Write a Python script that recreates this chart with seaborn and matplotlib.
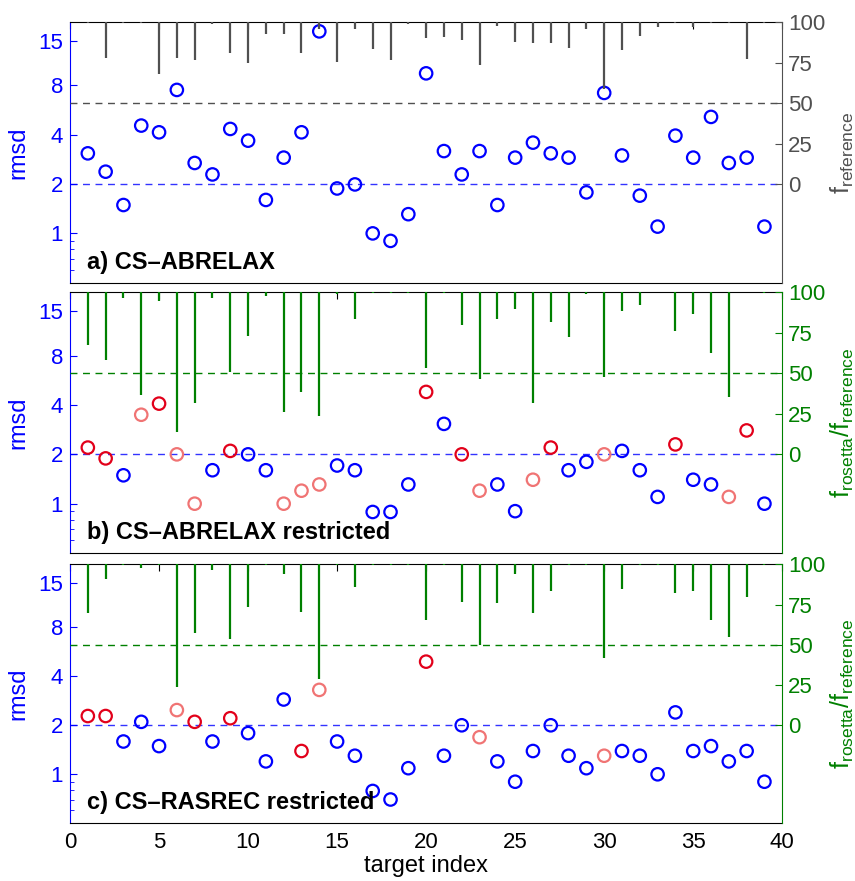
import numpy as np
import seaborn as sns
import matplotlib
matplotlib.use('Agg')
from matplotlib import pyplot as plt
from matplotlib.ticker import FixedLocator, NullFormatter


## DADOS

target = list(range(1, 40))

rmsd_a = [3.08, 2.38, 1.49, 4.55, 4.14, 7.51, 2.69, 2.29, 4.34, 3.68,
          1.60, 2.90, 4.14, 17.1, 1.88, 1.99, 1.00, 0.90, 1.31, 9.48,
          3.18, 2.29, 3.18, 1.49, 2.90, 3.58, 3.08, 2.90, 1.78, 7.20,
          2.99, 1.70, 1.10, 3.95, 2.90, 5.14, 2.69, 2.90, 1.10]
class_a = ['blue'] * 39
fref_a = [99.5, 77.9, 99.5, 99.6, 67.8, 77.9, 76.4, 99.0, 81.0, 74.8,
          92.6, 92.6, 81.0, 96.0, 75.4, 95.7, 83.3, 76.4, 98.8, 89.9,
          90.9, 88.8, 73.3, 97.7, 87.8, 86.8, 86.8, 83.7, 96.0, 58.9,
          82.6, 91.5, 97.0, 99.3, 97.0, 99.3, 99.3, 76.9, 99.3]

rmsd_b = [2.20, 1.89, 1.49, 3.49, 4.08, 2.00, 1.00, 1.60, 2.10, 2.00,
          1.60, 1.00, 1.20, 1.31, 1.71, 1.60, 0.89, 0.89, 1.31, 4.81,
          3.07, 2.00, 1.20, 1.31, 0.90, 1.40, 2.20, 1.60, 1.80, 2.00,
          2.10, 1.60, 1.10, 2.30, 1.40, 1.31, 1.10, 2.80, 1.00]
class_b = ['red', 'red', 'blue', 'pink', 'red', 'pink', 'pink', 'blue', 'red', 'blue',
           'blue', 'pink', 'pink', 'pink', 'blue', 'blue', 'blue', 'blue', 'blue', 'red',
           'blue', 'red', 'pink', 'blue', 'blue', 'pink', 'red', 'blue', 'blue', 'pink',
           'blue', 'blue', 'blue', 'red', 'blue', 'blue', 'pink', 'red', 'blue']
fratio_b = [67.5, 58.2, 96.7, 36.6, 94.9, 14.0, 31.5, 96.7, 50.6, 73.3,
            97.9, 26.3, 38.7, 23.7, 98.8, 83.5, 99.5, 99.5, 99.5, 53.5,
            99.5, 79.8, 46.5, 83.5, 89.7, 31.5, 81.9, 72.2, 98.8, 47.5,
            88.7, 92.2, 100.0, 76.3, 86.6, 62.8, 35.2, 100.0, 99.5]

rmsd_c = [2.28, 2.28, 1.59, 2.10, 1.49, 2.48, 2.10, 1.59, 2.21, 1.79,
          1.20, 2.88, 1.39, 3.30, 1.59, 1.30, 0.79, 0.70, 1.09, 4.92,
          1.30, 2.00, 1.69, 1.20, 0.90, 1.39, 2.00, 1.30, 1.09, 1.30,
          1.39, 1.30, 1.00, 2.40, 1.39, 1.49, 1.20, 1.39, 0.90]
class_c = ['red', 'red', 'blue', 'blue', 'blue', 'pink', 'red', 'blue', 'red', 'blue',
           'blue', 'blue', 'red', 'pink', 'blue', 'blue', 'blue', 'blue', 'blue', 'red',
           'blue', 'blue', 'pink', 'blue', 'blue', 'blue', 'blue', 'blue', 'blue', 'pink',
           'blue', 'blue', 'blue', 'blue', 'blue', 'blue', 'blue', 'blue', 'blue']
fratio_c = [70.0, 90.9, 99.5, 97.9, 99.5, 23.6, 57.6, 96.5, 53.6, 73.7,
            99.5, 93.8, 70.6, 28.8, 99.3, 85.7, 99.5, 99.5, 99.5, 65.4,
            99.5, 76.8, 49.9, 75.8, 93.8, 70.0, 83.6, 99.5, 99.5, 41.6,
            84.7, 99.5, 99.5, 82.0, 83.6, 65.4, 55.1, 79.9, 99.5]

cores = {'blue': '#0000ff', 'red': '#e2001a', 'pink': '#f07474'}
AZUL = '#0000ff'
CINZA = '#505050'
VERDE = '#008000'


## CONFIGURAÇÕES

sns.set_style('white')
plt.rcParams['font.family'] = ['Liberation Sans', 'DejaVu Sans']
plt.rcParams['mathtext.fontset'] = 'custom'
plt.rcParams['mathtext.rm'] = 'Liberation Sans'
plt.rcParams['text.color'] = 'black'
plt.rcParams['axes.labelcolor'] = 'black'
plt.rcParams['xtick.color'] = 'black'
FS = 16

fig = plt.figure(figsize=(8.55, 8.81), dpi=100)

paineis = [
    (rmsd_a, class_a, fref_a, CINZA, r'$\mathregular{f_{reference}}$', 'a) CS\u2013ABRELAX', [0.0819, 0.6791, 0.833, 0.2959]),
    (rmsd_b, class_b, fratio_b, VERDE, r'$\mathregular{f_{rosetta}/f_{reference}}$', 'b) CS\u2013ABRELAX restricted', [0.0819, 0.3723, 0.833, 0.2959]),
    (rmsd_c, class_c, fratio_c, VERDE, r'$\mathregular{f_{rosetta}/f_{reference}}$', 'c) CS\u2013RASREC restricted', [0.0819, 0.0655, 0.833, 0.2940]),
]

ylo, yhi = 0.5, 19.5
frac2 = np.log(2 / ylo) / np.log(yhi / ylo)
rlo = -100 * frac2 / (1 - frac2)

for k, (rmsd, cls, fval, corDir, labDir, titulo, pos) in enumerate(paineis):
    ax = fig.add_axes(pos)
    ax2 = ax.twinx()

    # barras penduradas no topo (eixo direito)
    ax2.vlines(target, fval, 100, color=corDir, lw=1.6, zorder=2)
    ax2.axhline(50, color=corDir, ls=(0, (5, 4)), lw=1.0)
    ax2.set_ylim(rlo, 100)
    ax2.set_yticks([0, 25, 50, 75, 100])
    ax2.tick_params(axis='y', direction='in', length=5, colors=corDir, labelsize=FS, pad=4)
    ax2.set_ylabel(labDir, color=corDir, fontsize=FS + 2, labelpad=3)
    for s in ['left', 'top', 'bottom']:
        ax2.spines[s].set_visible(False)
    ax2.spines['right'].set_color(corDir)

    # circulos rmsd (eixo esquerdo)
    ax.axhline(2, color=AZUL, ls=(0, (5, 4)), lw=1.0, alpha=0.8)
    for c in ['blue', 'pink', 'red']:
        xs = [t for t, q in zip(target, cls) if q == c]
        ys = [r for r, q in zip(rmsd, cls) if q == c]
        if len(xs) == 0:
            continue
        sns.scatterplot(x=xs, y=ys, ax=ax, marker='o', s=80, facecolor='none',
                        edgecolor=cores[c], linewidth=1.6, zorder=5)
    ax.set_yscale('log')
    ax.set_ylim(ylo, yhi)
    ax.set_xlim(0, 40)
    ax.yaxis.set_major_locator(FixedLocator([1, 2, 4, 8, 15]))
    ax.set_yticklabels(['1', '2', '4', '8', '15'])
    ax.yaxis.set_minor_locator(FixedLocator([0.6, 0.7, 0.8, 0.9]))
    ax.yaxis.set_minor_formatter(NullFormatter())
    ax.set_xticks(range(0, 41, 5))
    ax.tick_params(axis='y', which='major', direction='in', length=5, colors=AZUL, labelsize=FS, pad=5)
    ax.tick_params(axis='y', which='minor', direction='in', length=3, colors=AZUL)
    ax.tick_params(axis='x', direction='in', length=5, top=True, labelsize=FS, pad=6, colors='black')
    ax.set_ylabel('rmsd', color=AZUL, fontsize=FS + 1, labelpad=6)
    ax.spines['left'].set_color(AZUL)
    ax.spines['right'].set_visible(False)
    for s in ['top', 'bottom']:
        ax.spines[s].set_color('black')
    if k < 2:
        ax.set_xticklabels([])
    else:
        ax.set_xlabel('target index', fontsize=FS + 1, labelpad=2, color='black')

    ax.text(0.024, 0.035, titulo, transform=ax.transAxes, fontsize=FS + 1,
            fontweight='bold', color='black', va='bottom', ha='left', zorder=6)

plt.savefig('out.png', dpi=100)
